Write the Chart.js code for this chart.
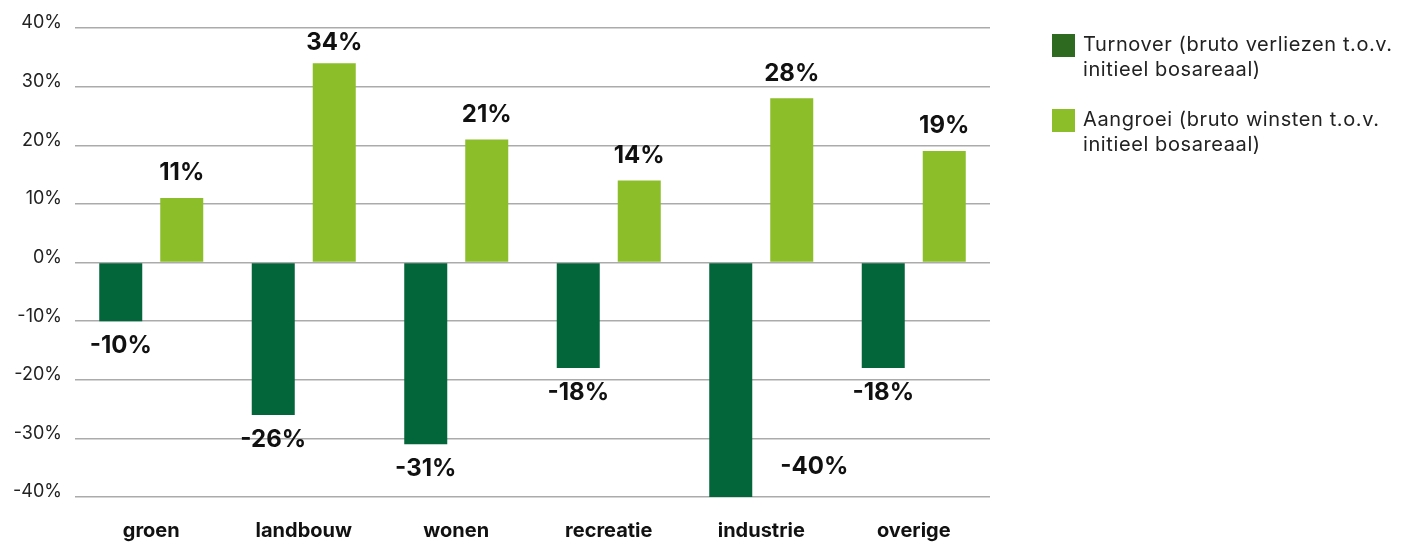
<!DOCTYPE html>
<html>
<head>
<meta charset="utf-8">
<script src="https://cdn.jsdelivr.net/npm/chart.js@4/dist/chart.umd.min.js"></script>
<style>
  html, body { margin: 0; padding: 0; background: #fff; }
  #wrap { width: 1414px; height: 545px; position: relative; }
</style>
</head>
<body>
<div id="wrap"><canvas id="chart"></canvas></div>
<script>
const categories = ['groen', 'landbouw', 'wonen', 'recreatie', 'industrie', 'overige'];
const turnover = [-10, -26, -31, -18, -40, -18];
const aangroei = [11, 34, 21, 14, 28, 19];
const seriesNames = [
    ['Turnover (bruto verliezen t.o.v.', 'initieel bosareaal)'],
    ['Aangroei (bruto winsten t.o.v.', 'initieel bosareaal)']
];
const barColors = ['#03663A', '#8BBE28'];
const legendColors = ['#2E6B20', '#8BBE28'];

const FONT = 'Inter, "Open Sans", sans-serif';

// value labels above / below the bars
const valueLabels = {
    id: 'valueLabels',
    afterDatasetsDraw(chart) {
        const ctx = chart.ctx;
        const area = chart.chartArea;
        ctx.save();
        ctx.font = 'bold 24px ' + FONT;
        ctx.fillStyle = '#111';
        chart.data.datasets.forEach((ds, i) => {
            chart.getDatasetMeta(i).data.forEach((bar, j) => {
                const v = ds.data[j];
                const txt = v + '%';
                ctx.textBaseline = 'middle';
                if (v >= 0) {
                    ctx.textAlign = 'center';
                    ctx.fillText(txt, bar.x, Math.max(bar.y - 25, area.top + 15));
                } else if (bar.y + 40 > area.bottom) {
                    // no room below: put it next to the bar
                    ctx.textAlign = 'left';
                    ctx.fillText(txt, bar.x + bar.width / 2 + 28, bar.y - 30);
                } else {
                    ctx.textAlign = 'center';
                    ctx.fillText(txt, bar.x, bar.y + 25);
                }
            });
        });
        ctx.restore();
    }
};

// legend on the right, two lines per item
const sideLegend = {
    id: 'sideLegend',
    afterDraw(chart) {
        const ctx = chart.ctx;
        ctx.save();
        ctx.font = '20px ' + FONT;
        ctx.letterSpacing = '0.6px';
        ctx.textAlign = 'left';
        ctx.textBaseline = 'middle';
        const x = 1052, y0 = 34, gap = 75;
        seriesNames.forEach((lines, i) => {
            const y = y0 + i * gap;
            ctx.fillStyle = legendColors[i];
            ctx.fillRect(x, y, 23, 23);
            ctx.fillStyle = '#222';
            lines.forEach((l, k) => ctx.fillText(l, x + 31, y + 11 + k * 25));
        });
        ctx.restore();
    }
};

new Chart(document.getElementById('chart'), {
    type: 'bar',
    data: {
        labels: categories,
        datasets: [
            { label: seriesNames[0].join(' '), data: turnover, backgroundColor: barColors[0] },
            { label: seriesNames[1].join(' '), data: aangroei, backgroundColor: barColors[1] }
        ]
    },
    options: {
        responsive: true,
        maintainAspectRatio: false,
        animation: false,
        categoryPercentage: 0.8,
        barPercentage: 0.705,
        layout: { padding: { top: 28, right: 424, bottom: 0, left: 0 } },
        plugins: {
            legend: { display: false },
            tooltip: { enabled: false }
        },
        scales: {
            x: {
                grid: { display: false, drawTicks: false },
                border: { display: false },
                ticks: {
                    color: '#111',
                    font: { family: FONT, size: 20, weight: 'bold' },
                    padding: 22
                },
                afterFit(scale) { scale.height = 48; }
            },
            y: {
                min: -40,
                max: 40,
                grid: { color: '#ABABAB', lineWidth: 1.5, drawTicks: false },
                border: { display: false },
                ticks: {
                    stepSize: 10,
                    color: '#222',
                    padding: 13,
                    labelOffset: -5,
                    font: { family: FONT, size: 18 },
                    callback: v => v + '%'
                },
                afterFit(scale) { scale.width = 75; }
            }
        }
    },
    plugins: [valueLabels, sideLegend]
});
</script>
</body>
</html>
